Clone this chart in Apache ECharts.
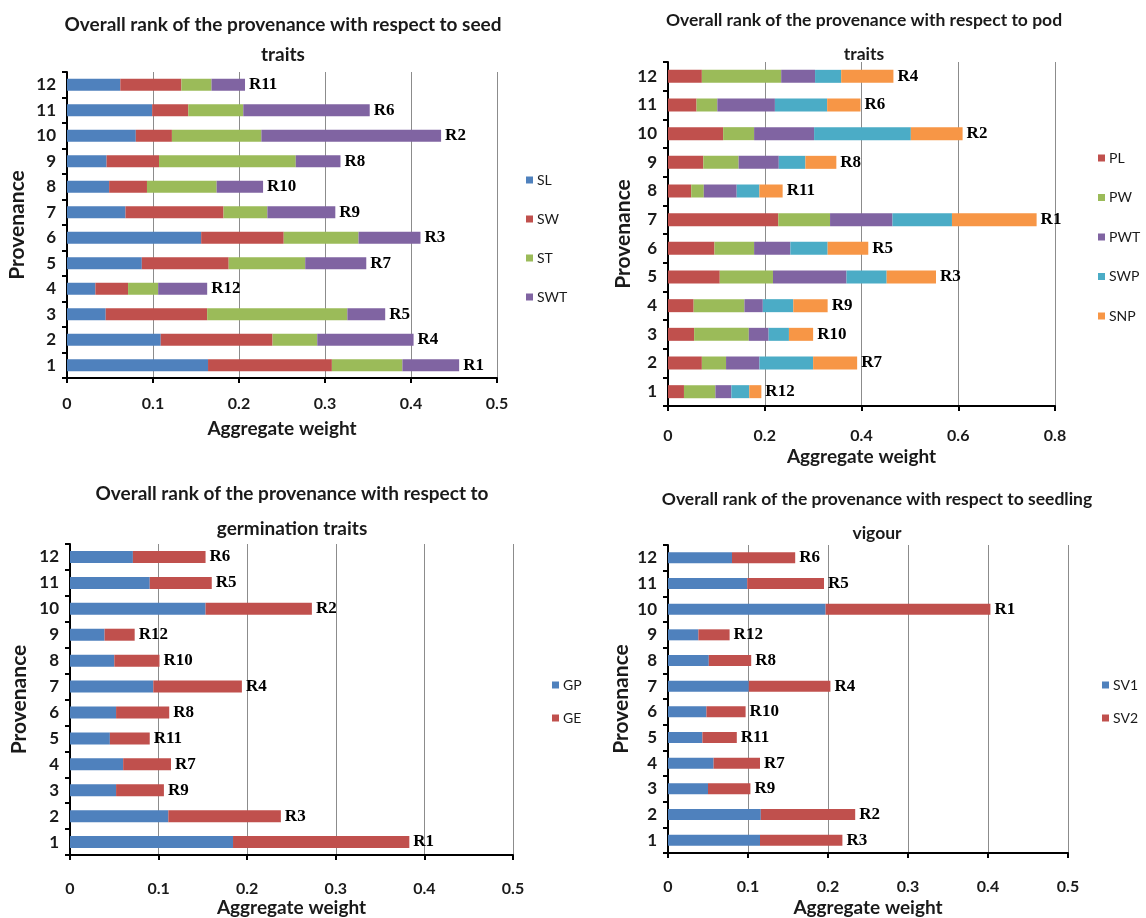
<!DOCTYPE html>
<html>
<head>
<meta charset="utf-8">
<title>Overall rank of the provenance</title>
<script src="https://cdn.jsdelivr.net/npm/echarts@6/dist/echarts.min.js"></script>
<style>
  html, body { margin: 0; padding: 0; background: #ffffff; }
  #chart { width: 1146px; height: 918px; }
</style>
</head>
<body>
<div id="chart"></div>
<script>
// Provenance numbers (category axis, bottom to top)
const provenance = ['1', '2', '3', '4', '5', '6', '7', '8', '9', '10', '11', '12'];

// Seed traits: aggregate weight components
const seedSL  = [0.164, 0.109, 0.045, 0.033, 0.087, 0.156, 0.068, 0.049, 0.046, 0.080, 0.099, 0.062];
const seedSW  = [0.144, 0.130, 0.118, 0.038, 0.101, 0.096, 0.114, 0.044, 0.061, 0.042, 0.042, 0.071];
const seedST  = [0.082, 0.052, 0.163, 0.035, 0.089, 0.087, 0.051, 0.081, 0.159, 0.104, 0.064, 0.035];
const seedSWT = [0.066, 0.112, 0.044, 0.057, 0.071, 0.072, 0.079, 0.054, 0.052, 0.209, 0.147, 0.039];
const seedRank = ['R1', 'R4', 'R5', 'R12', 'R7', 'R3', 'R9', 'R10', 'R8', 'R2', 'R6', 'R11'];

// Pod traits
const podPL  = [0.033, 0.070, 0.054, 0.053, 0.107, 0.096, 0.228, 0.048, 0.073, 0.114, 0.059, 0.070];
const podPW  = [0.065, 0.050, 0.113, 0.105, 0.110, 0.082, 0.107, 0.026, 0.073, 0.064, 0.043, 0.164];
const podPWT = [0.033, 0.069, 0.041, 0.038, 0.152, 0.075, 0.129, 0.068, 0.083, 0.124, 0.119, 0.070];
const podSWP = [0.037, 0.111, 0.042, 0.063, 0.083, 0.077, 0.123, 0.047, 0.055, 0.200, 0.108, 0.054];
const podSNP = [0.025, 0.091, 0.050, 0.071, 0.102, 0.084, 0.175, 0.048, 0.064, 0.107, 0.069, 0.108];
const podRank = ['R12', 'R7', 'R10', 'R9', 'R3', 'R5', 'R1', 'R11', 'R8', 'R2', 'R6', 'R4'];

// Germination traits
const germGP = [0.184, 0.111, 0.052, 0.060, 0.045, 0.052, 0.094, 0.050, 0.039, 0.153, 0.090, 0.071];
const germGE = [0.199, 0.127, 0.054, 0.054, 0.045, 0.060, 0.100, 0.051, 0.034, 0.120, 0.070, 0.082];
const germRank = ['R1', 'R3', 'R9', 'R7', 'R11', 'R8', 'R4', 'R10', 'R12', 'R2', 'R5', 'R6'];

// Seedling vigour
const vigSV1 = [0.115, 0.116, 0.050, 0.057, 0.043, 0.048, 0.101, 0.051, 0.038, 0.197, 0.099, 0.080];
const vigSV2 = [0.103, 0.118, 0.053, 0.058, 0.043, 0.049, 0.102, 0.053, 0.039, 0.206, 0.096, 0.079];
const vigRank = ['R3', 'R2', 'R9', 'R7', 'R11', 'R10', 'R4', 'R8', 'R12', 'R1', 'R5', 'R6'];

// Axis ranges
const seedMax = 0.5, podMax = 0.8, germMax = 0.5, vigMax = 0.5;
const seedStep = 0.1, podStep = 0.2, germStep = 0.1, vigStep = 0.1;

const COLORS = {
  blue: '#4F81BD', red: '#C0504D', green: '#9BBB59',
  purple: '#8064A2', teal: '#4BACC6', orange: '#F79646'
};

const SANS = 'Lato, "Open Sans", sans-serif';
const SERIF = '"Liberation Serif", "DejaVu Serif", serif';

const panels = [
  {
    title: 'Overall rank of the provenance with respect to seed\ntraits',
    titleX: 283, titleY: 10, titleSize: 19, titleLH: 30,
    grid: { left: 67, top: 72, width: 430, height: 306 },
    max: seedMax, step: seedStep, barWidth: 12,
    labelMargin: 18, xNameGap: 41, yNameGap: 39,
    legend: { left: 526, top: 172, gap: 23 },
    series: [
      { name: 'SL', data: seedSL, color: COLORS.blue },
      { name: 'SW', data: seedSW, color: COLORS.red },
      { name: 'ST', data: seedST, color: COLORS.green },
      { name: 'SWT', data: seedSWT, color: COLORS.purple }
    ],
    ranks: seedRank
  },
  {
    title: 'Overall rank of the provenance with respect to pod\ntraits',
    titleX: 864, titleY: 3, titleSize: 17.5, titleLH: 34,
    grid: { left: 668, top: 62, width: 387, height: 344 },
    max: podMax, step: podStep, barWidth: 13,
    labelMargin: 22, xNameGap: 41, yNameGap: 30,
    legend: { left: 1098, top: 150, gap: 23.5 },
    series: [
      { name: 'PL', data: podPL, color: COLORS.red },
      { name: 'PW', data: podPW, color: COLORS.green },
      { name: 'PWT', data: podPWT, color: COLORS.purple },
      { name: 'SWP', data: podSWP, color: COLORS.teal },
      { name: 'SNP', data: podSNP, color: COLORS.orange }
    ],
    ranks: podRank
  },
  {
    title: 'Overall rank of the provenance with respect to\ngermination traits',
    titleX: 292, titleY: 476, titleSize: 19, titleLH: 35,
    grid: { left: 70, top: 544, width: 443, height: 311 },
    max: germMax, step: germStep, barWidth: 12,
    labelMargin: 26, xNameGap: 42, yNameGap: 40,
    legend: { left: 552, top: 677, gap: 17 },
    series: [
      { name: 'GP', data: germGP, color: COLORS.blue },
      { name: 'GE', data: germGE, color: COLORS.red }
    ],
    ranks: germRank
  },
  {
    title: 'Overall rank of the provenance with respect to seedling\nvigour',
    titleX: 877, titleY: 482, titleSize: 17.5, titleLH: 34,
    grid: { left: 668, top: 545, width: 400, height: 308 },
    max: vigMax, step: vigStep, barWidth: 11,
    labelMargin: 26, xNameGap: 45, yNameGap: 36,
    legend: { left: 1102, top: 677, gap: 17 },
    series: [
      { name: 'SV1', data: vigSV1, color: COLORS.blue },
      { name: 'SV2', data: vigSV2, color: COLORS.red }
    ],
    ranks: vigRank
  }
];

const option = {
  backgroundColor: '#ffffff',
  animation: false,
  title: [], grid: [], xAxis: [], yAxis: [], legend: [], series: []
};

panels.forEach(function (p, i) {
  option.title.push({
    text: p.title,
    left: p.titleX, top: p.titleY,
    textAlign: 'center',
    padding: 0,
    textStyle: {
      fontFamily: SANS, fontWeight: 'bold', fontSize: p.titleSize,
      color: '#1a1a1a', lineHeight: p.titleLH
    }
  });

  option.grid.push(Object.assign({ containLabel: false }, p.grid));

  option.xAxis.push({
    type: 'value', gridIndex: i,
    min: 0, max: p.max, interval: p.step,
    name: 'Aggregate weight', nameLocation: 'middle', nameGap: p.xNameGap,
    nameTextStyle: { fontFamily: SANS, fontWeight: 'bold', fontSize: 19, color: '#1a1a1a' },
    axisLine: { show: true, lineStyle: { color: '#000', width: 2 } },
    axisTick: { show: true, length: 5, lineStyle: { color: '#000', width: 2 } },
    axisLabel: {
      margin: p.labelMargin, fontFamily: SANS, fontWeight: 'bold', fontSize: 16, color: '#1a1a1a',
      formatter: function (v) { return String(Math.round(v * 10) / 10); }
    },
    splitLine: { show: true, lineStyle: { color: '#8c8c8c', width: 1 } }
  });

  option.yAxis.push({
    type: 'category', gridIndex: i, data: provenance,
    name: 'Provenance', nameLocation: 'middle', nameGap: p.yNameGap, nameRotate: 90,
    nameTextStyle: { fontFamily: SANS, fontWeight: 'bold', fontSize: 21, color: '#1a1a1a' },
    axisLine: { show: true, lineStyle: { color: '#000', width: 2 } },
    axisTick: { show: true, length: 5, alignWithLabel: false, lineStyle: { color: '#000', width: 2 } },
    axisLabel: { margin: 11, fontFamily: SANS, fontWeight: 'bold', fontSize: 17, color: '#1a1a1a' },
    splitLine: { show: false }
  });

  option.legend.push({
    orient: 'vertical',
    left: p.legend.left, top: p.legend.top,
    itemWidth: 7, itemHeight: 7, itemGap: p.legend.gap,
    icon: 'rect', padding: 0,
    textStyle: { fontFamily: SANS, fontSize: 14, color: '#1a1a1a', lineHeight: 16, padding: [0, 0, 0, -1] },
    data: p.series.map(function (s) { return s.name; })
  });

  const last = p.series.length - 1;
  p.series.forEach(function (s, k) {
    const ser = {
      type: 'bar', name: s.name,
      xAxisIndex: i, yAxisIndex: i,
      stack: 'panel' + i,
      barWidth: p.barWidth,
      itemStyle: { color: s.color },
      data: s.data
    };
    if (k === last) {
      // Rank label at the end of each stacked bar
      ser.label = {
        show: true, position: 'right', distance: 4,
        fontFamily: SERIF, fontWeight: 'bold', fontSize: 17, color: '#000',
        formatter: function (d) { return p.ranks[d.dataIndex]; }
      };
    }
    option.series.push(ser);
  });
});

const chart = echarts.init(document.getElementById('chart'), null, { renderer: 'canvas' });
chart.setOption(option);
</script>
</body>
</html>
